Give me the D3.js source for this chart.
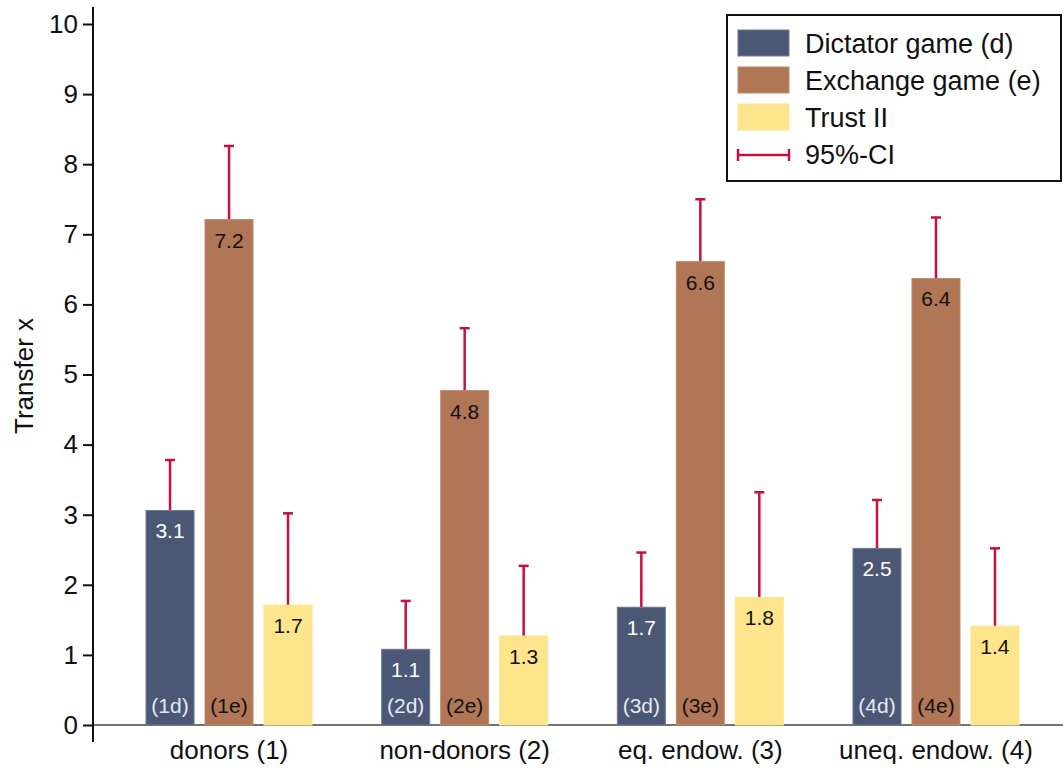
<!DOCTYPE html>
<html><head><meta charset="utf-8">
<script src="https://cdn.jsdelivr.net/npm/d3@7"></script>
<style>body{margin:0;background:#fff}svg{display:block;font-family:"Liberation Sans",Arial,sans-serif}</style>
</head><body><svg id="c" width="1063" height="770"></svg>
<script>
const categories = ["donors (1)", "non-donors (2)", "eq. endow. (3)", "uneq. endow. (4)"];
const seriesNames = ["Dictator game (d)", "Exchange game (e)", "Trust II"];
const dictator = [3.06, 1.08, 1.68, 2.52];
const exchange = [7.21, 4.77, 6.61, 6.37];
const trust = [1.71, 1.27, 1.82, 1.41];
const dictatorCI = [3.78, 1.77, 2.46, 3.21];
const exchangeCI = [8.26, 5.66, 7.50, 7.24];
const trustCI = [3.02, 2.27, 3.32, 2.52];
const dictatorTags = ["(1d)", "(2d)", "(3d)", "(4d)"];
const exchangeTags = ["(1e)", "(2e)", "(3e)", "(4e)"];
const yTicks = [0,1,2,3,4,5,6,7,8,9,10];
const ciLabel = "95%-CI";
const yTitle = "Transfer x";

const colors = ["#4a5876", "#b07656", "#fee58c"];
const outline = ["#6d7a94", "#c08a6c", "#fee58c"];
const labelColors = ["#ffffff", "#111", "#111"];
const ciColor = "#c8103c";

const svg = d3.select("#c");
const y = d3.scaleLinear().domain([0, 10]).range([725, 24]);
const x0 = d3.scaleBand().domain(categories).range([111.2, 1053.8]);
const x1 = d3.scaleBand().domain(d3.range(3)).range([-83, 83]).paddingInner(0.186);

const series = [
  {vals: dictator, ci: dictatorCI, tags: dictatorTags},
  {vals: exchange, ci: exchangeCI, tags: exchangeTags},
  {vals: trust, ci: trustCI, tags: null}
];
const rows = [];
series.forEach((s, si) => categories.forEach((c, ci) => rows.push({si, c, v: s.vals[ci], hi: s.ci[ci], tag: s.tags ? s.tags[ci] : null})));
const cx = d => x0(d.c) + x0.bandwidth()/2 + x1(d.si);
const mid = d => cx(d) + x1.bandwidth()/2;

// baseline
svg.append("line").attr("x1", 93).attr("x2", 1063).attr("y1", y(0)).attr("y2", y(0))
  .attr("stroke", "#444").attr("stroke-width", 1.5);

const g = svg.append("g");
// CI lines
g.selectAll("line.ci").data(rows).join("line")
  .attr("x1", mid).attr("x2", mid)
  .attr("y1", d => y(d.v)).attr("y2", d => y(d.hi))
  .attr("stroke", ciColor).attr("stroke-width", 2.5);
g.selectAll("line.cap").data(rows).join("line")
  .attr("x1", d => mid(d) - 5).attr("x2", d => mid(d) + 5)
  .attr("y1", d => y(d.hi)).attr("y2", d => y(d.hi))
  .attr("stroke", ciColor).attr("stroke-width", 2.5);

// bars
g.selectAll("rect.bar").data(rows).join("rect")
  .attr("x", d => cx(d)).attr("width", x1.bandwidth())
  .attr("y", d => y(d.v)).attr("height", d => y(0) - y(d.v))
  .attr("fill", d => colors[d.si]).attr("stroke", d => outline[d.si]).attr("stroke-width", 1);

// value labels
g.selectAll("text.val").data(rows).join("text")
  .attr("x", mid).attr("y", d => y(d.v) + 28)
  .attr("text-anchor", "middle").attr("font-size", 21)
  .attr("fill", d => labelColors[d.si]).text(d => d.v.toFixed(1));
g.selectAll("text.tag").data(rows.filter(d => d.tag)).join("text")
  .attr("x", mid).attr("y", y(0) - 12)
  .attr("text-anchor", "middle").attr("font-size", 21)
  .attr("fill", d => d.si === 0 ? "#e8e8f0" : "#111").text(d => d.tag);

// y axis
const ya = svg.append("g").attr("transform", "translate(93,0)")
  .call(d3.axisLeft(y).tickValues(yTicks).tickSize(10).tickPadding(5).tickFormat(d3.format("d")));
ya.select(".domain").attr("d", "M0,7V742").attr("stroke", "#111").attr("stroke-width", 2);
ya.selectAll(".tick line").attr("stroke", "#111").attr("stroke-width", 2);
ya.selectAll(".tick text").attr("font-size", 26).attr("fill", "#111").attr("font-family", "Liberation Sans, Arial, sans-serif");

svg.append("text").attr("transform", "translate(33,376) rotate(-90)").attr("text-anchor", "middle")
  .attr("font-size", 26).attr("fill", "#111").text(yTitle);

// x labels
svg.selectAll("text.cat").data(categories).join("text")
  .attr("x", d => x0(d) + x0.bandwidth()/2).attr("y", 759)
  .attr("text-anchor", "middle").attr("font-size", 26).attr("fill", "#111").text(d => d);

// legend
const lg = svg.append("g");
lg.append("rect").attr("x", 727).attr("y", 15).attr("width", 334).attr("height", 166)
  .attr("fill", "#fff").attr("stroke", "#111").attr("stroke-width", 2);
const legendRows = seriesNames.map((n, i) => ({n, i}));
lg.selectAll("rect.sw").data(legendRows).join("rect")
  .attr("x", 738).attr("y", d => 30 + d.i * 37).attr("width", 51).attr("height", 26)
  .attr("fill", d => colors[d.i]).attr("stroke", d => outline[d.i]);
lg.selectAll("text.lt").data(legendRows).join("text")
  .attr("x", 805).attr("y", d => 53 + d.i * 37).attr("font-size", 27).attr("fill", "#111").text(d => d.n);
lg.append("line").attr("x1", 738).attr("x2", 789).attr("y1", 155).attr("y2", 155).attr("stroke", ciColor).attr("stroke-width", 2.5);
lg.append("line").attr("x1", 738).attr("x2", 738).attr("y1", 149).attr("y2", 161).attr("stroke", ciColor).attr("stroke-width", 2.5);
lg.append("line").attr("x1", 789).attr("x2", 789).attr("y1", 149).attr("y2", 161).attr("stroke", ciColor).attr("stroke-width", 2.5);
lg.append("text").attr("x", 805).attr("y", 164).attr("font-size", 27).attr("fill", "#111").text(ciLabel);
</script></body></html>
